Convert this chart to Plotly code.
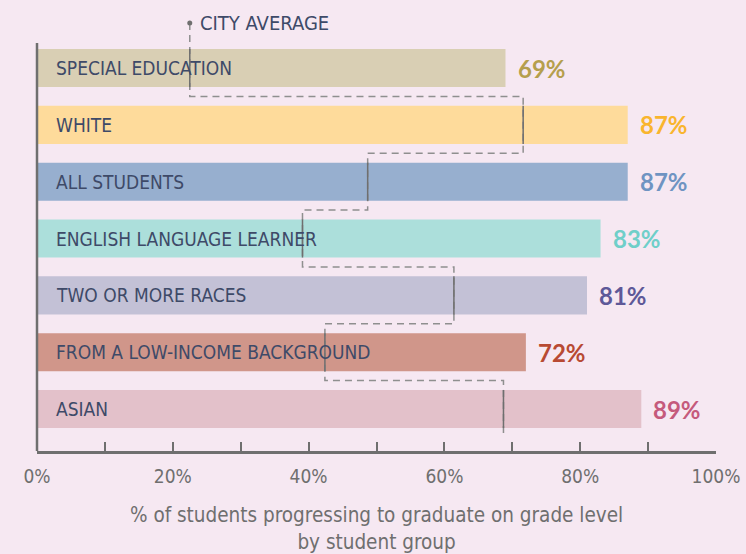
"""Horizontal bar chart: on-track graduation by student group, with city average step line."""
import plotly.graph_objects as go

categories = [
    "SPECIAL EDUCATION",
    "WHITE",
    "ALL STUDENTS",
    "ENGLISH LANGUAGE LEARNER",
    "TWO OR MORE RACES",
    "FROM A LOW-INCOME BACKGROUND",
    "ASIAN",
]
values = [69, 87, 87, 83, 81, 72, 89]
city_average = [22.5, 71.6, 48.7, 39.1, 61.4, 42.4, 68.7]
tick_vals = [0, 10, 20, 30, 40, 50, 60, 70, 80, 90, 100]
tick_text = ["0%", "", "20%", "", "40%", "", "60%", "", "80%", "", "100%"]

BAR_COLORS = ["#d9cfb4", "#fedb9b", "#97afcf", "#acdfdb", "#c3c1d6", "#d0968a", "#e3c1ca"]
VALUE_COLORS = ["#b59f4c", "#f9b52e", "#6f94c2", "#6fcfc9", "#5e5898", "#b84a33", "#c55a7c"]
BG = "#f6e8f2"
NAVY = "#3e4a68"
GREY = "#6f6f6f"
DASH_GREY = "#8f8f8f"
CONDENSED = "DejaVu Sans Condensed, sans-serif"

BAR_W = 0.67
H = BAR_W / 2
pos = list(range(len(categories)))

fig = go.Figure()

fig.add_trace(go.Bar(
    y=pos,
    x=values,
    orientation="h",
    width=BAR_W,
    marker=dict(color=BAR_COLORS, line=dict(width=0)),
    hoverinfo="skip",
))

# dashed step path for the city average
dx, dy = [city_average[0]], [-0.79]
for i, a in enumerate(city_average):
    dx += [a, a]
    dy += [i - H, i + H]
    if i + 1 < len(city_average):
        nxt = city_average[i + 1]
        dx += [a, nxt]
        dy += [i + 0.5, i + 0.5]
dx.append(city_average[-1])
dy.append(len(city_average) - 1 + H + 0.09)

fig.add_trace(go.Scatter(
    x=dx, y=dy, mode="lines",
    line=dict(color=DASH_GREY, width=1.5, dash="7px,5px"),
    hoverinfo="skip",
))

# solid part inside each bar
sx, sy = [], []
for i, a in enumerate(city_average):
    sx += [a, a, None]
    sy += [i - H, i + H, None]
fig.add_trace(go.Scatter(
    x=sx, y=sy, mode="lines",
    line=dict(color=GREY, width=1.5),
    hoverinfo="skip",
))

fig.add_trace(go.Scatter(
    x=[city_average[0]], y=[-0.79], mode="markers",
    marker=dict(color=GREY, size=5),
    cliponaxis=False, hoverinfo="skip",
))

annotations = [dict(
    x=city_average[0], y=-0.79, xref="x", yref="y",
    text="CITY AVERAGE", showarrow=False, xanchor="left", xshift=8,
    font=dict(family=CONDENSED, size=20, color=NAVY),
)]
for i, (cat, v) in enumerate(zip(categories, values)):
    annotations.append(dict(
        x=0, y=i, xref="x", yref="y", text=cat, showarrow=False,
        xanchor="left", xshift=17,
        font=dict(family=CONDENSED, size=19, color=NAVY),
    ))
    annotations.append(dict(
        x=v, y=i, xref="x", yref="y", text=f"<b>{v}%</b>", showarrow=False,
        xanchor="left", xshift=10,
        font=dict(family="Lato, sans-serif", size=24, color=VALUE_COLORS[i]),
    ))
annotations.append(dict(
    x=0.5, y=-0.115, xref="paper", yref="paper", yanchor="top",
    text="% of students progressing to graduate on grade level<br>by student group",
    showarrow=False, align="center",
    font=dict(family=CONDENSED, size=20.5, color=GREY),
))

fig.update_layout(
    width=746,
    height=554,
    margin=dict(l=37, r=30, t=13, b=103),
    paper_bgcolor=BG,
    plot_bgcolor=BG,
    showlegend=False,
    annotations=annotations,
    shapes=[dict(
        type="line", xref="paper", yref="paper",
        x0=0, x1=0, y0=0, y1=0.9315,
        line=dict(color=GREY, width=2.5),
    )],
    xaxis=dict(
        range=[0, 100],
        tickvals=tick_vals,
        ticktext=tick_text,
        ticks="inside",
        ticklen=9,
        tickwidth=2,
        tickcolor=GREY,
        showline=True,
        linecolor=GREY,
        linewidth=2.5,
        showgrid=False,
        zeroline=False,
        automargin=False,
        ticklabelstandoff=6,
        tickfont=dict(family=CONDENSED, size=19, color=GREY),
    ),
    yaxis=dict(
        range=[6.739, -0.968],
        showticklabels=False,
        showgrid=False,
        zeroline=False,
        showline=False,
        automargin=False,
        ticks="",
    ),
)

fig.write_html(
    "out.html",
    config={"displayModeBar": False},
    post_script="document.body.style.margin='0';",
)
